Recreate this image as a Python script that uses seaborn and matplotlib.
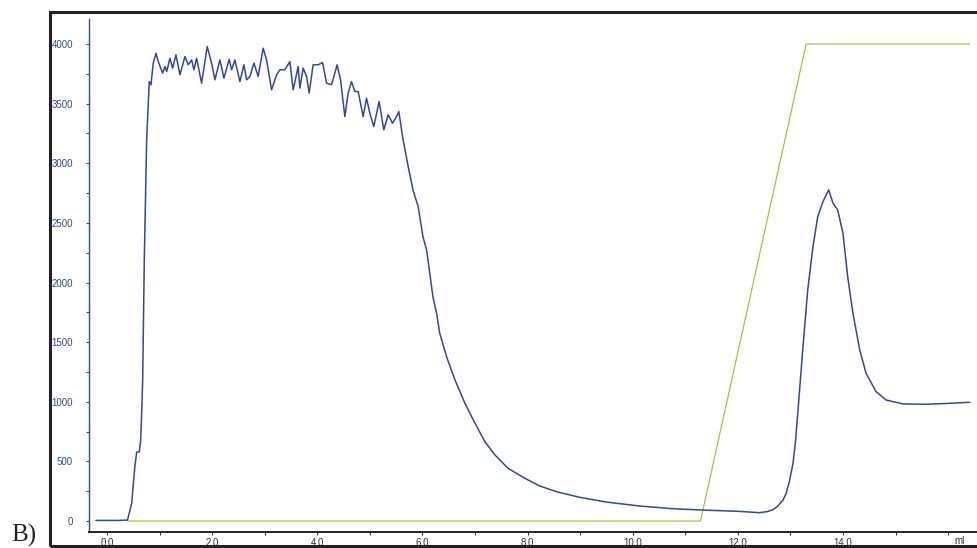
import numpy as np
import pandas as pd
import matplotlib
matplotlib.use("Agg")
import matplotlib.pyplot as plt
from matplotlib.patches import Rectangle
from matplotlib.ticker import MultipleLocator
import seaborn as sns

### Data (ml, mAU)
# sample loading: baseline + breakthrough
load_ml = [-0.21, 0.0, 0.2, 0.39, 0.47, 0.53, 0.565, 0.614, 0.641, 0.66, 0.679, 0.71, 0.755]
load_mau = [5, 5, 5, 8, 148, 455, 578, 580, 680, 906, 1183, 2200, 3196]

# saturated plateau
plat_ml = [0.804, 0.837, 0.880, 0.932, 0.975, 1.059, 1.103, 1.135, 1.198, 1.249, 1.312, 1.388,
           1.483, 1.546, 1.610, 1.654, 1.705, 1.800, 1.907, 1.990, 2.053, 2.148, 2.224, 2.325,
           2.371, 2.433, 2.529, 2.605, 2.656, 2.719, 2.795, 2.876, 2.971, 3.036, 3.131, 3.226,
           3.289, 3.384, 3.479, 3.542, 3.637, 3.669, 3.732, 3.797, 3.846, 3.922, 4.017, 4.101,
           4.177, 4.272, 4.378, 4.443, 4.525, 4.587, 4.652, 4.715, 4.778, 4.873, 4.937, 5.000,
           5.076, 5.177, 5.266, 5.348, 5.432, 5.508, 5.551, 5.633]
plat_mau = [3685, 3658, 3840, 3923, 3853, 3756, 3811, 3770, 3881, 3798, 3909, 3742,
            3895, 3826, 3867, 3784, 3881, 3672, 3979, 3840, 3700, 3867, 3714, 3872,
            3784, 3867, 3685, 3826, 3700, 3728, 3840, 3728, 3965, 3867, 3616, 3742,
            3784, 3784, 3853, 3616, 3811, 3630, 3798, 3728, 3588, 3826, 3826, 3845,
            3672, 3658, 3826, 3700, 3392, 3588, 3685, 3602, 3602, 3392, 3546, 3420,
            3308, 3518, 3280, 3406, 3336, 3392, 3434, 3196]

# wash
wash_ml = [5.73, 5.82, 5.92, 6.01, 6.08, 6.14, 6.20, 6.27, 6.33, 6.46, 6.62, 6.81, 7.00,
           7.19, 7.38, 7.63, 7.95, 8.23, 8.55, 8.99, 9.50, 10.13, 10.77, 11.34, 12.03, 12.41]
wash_mau = [2972, 2777, 2637, 2385, 2273, 2078, 1882, 1742, 1575, 1378, 1183, 987, 820,
            665, 554, 442, 358, 294, 246, 199, 159, 126, 103, 92, 81, 70]

# elution peak
elu_ml = [12.55, 12.67, 12.76, 12.86, 12.92, 12.98, 13.05, 13.10, 13.14, 13.24, 13.33, 13.43,
          13.52, 13.62, 13.73, 13.81, 13.90, 14.00, 14.09, 14.19, 14.32, 14.44, 14.63, 14.82,
          15.14, 15.58, 16.03, 16.41]
elu_mau = [78, 95, 125, 176, 232, 330, 484, 680, 903, 1462, 1938, 2301,
           2553, 2679, 2777, 2665, 2609, 2414, 2050, 1742, 1434, 1239, 1085, 1015,
           982, 979, 987, 996]

# gradiente (linha verde)
grad_ml = [0.39, 11.29, 13.30, 16.41]
grad_val = [0, 0, 4000, 4000]

uv = pd.DataFrame({"ml": load_ml + plat_ml + wash_ml + elu_ml,
                   "mAU": load_mau + plat_mau + wash_mau + elu_mau})
grad = pd.DataFrame({"ml": grad_ml, "mAU": grad_val})

azul = "#3347a0"
verde = "#99cc33"

### Figura
sns.set_style("white")
plt.rcParams["font.family"] = ["Liberation Sans", "DejaVu Sans"]

fig = plt.figure(figsize=(9.77, 5.48), dpi=100)
ax = fig.add_axes([89 / 977, 16 / 548, 888 / 977, 513 / 548])

sns.lineplot(data=grad, x="ml", y="mAU", ax=ax, color=verde, lw=0.9,
             sort=False, estimator=None)
sns.lineplot(data=uv, x="ml", y="mAU", ax=ax, color=azul, lw=1.1,
             sort=False, estimator=None)

ax.set_xlim(-0.342, 16.55)
ax.set_ylim(-92, 4210)
ax.set_xlabel("")
ax.set_ylabel("")

ax.xaxis.set_minor_locator(MultipleLocator(1))
ax.yaxis.set_minor_locator(MultipleLocator(250))
ax.set_xticks(np.arange(0, 16, 2))
ax.set_xticklabels([f"{v:.1f}" for v in np.arange(0, 16, 2)])
ax.set_yticks(np.arange(0, 4001, 500))
ax.set_yticklabels([str(v) for v in range(0, 4001, 500)])

ax.tick_params(axis="y", which="both", direction="out", colors=azul, labelsize=7,
               length=2.5, width=0.8, pad=9, left=True)
ax.tick_params(axis="x", which="both", direction="out", color="#333333", labelcolor="#333333",
               labelsize=7, length=2.5, width=0.8, pad=1.5, bottom=True)

for s in ["top", "right"]:
    ax.spines[s].set_visible(False)
ax.spines["left"].set_color(azul)
ax.spines["left"].set_linewidth(1.0)
ax.spines["bottom"].set_color("#222222")
ax.spines["bottom"].set_linewidth(1.4)

ax.text(-0.16, 1.0, "mAU", transform=ax.get_yaxis_transform(), ha="right", va="center",
        fontsize=7, color=azul)
fig.text(960 / 977, 1 - 541 / 548, "ml", ha="center", va="center", fontsize=7, color="#333333")

# moldura externa e rótulo do painel
fig.patches.append(Rectangle((50 / 977, 2 / 548), 940 / 977, 534 / 548, transform=fig.transFigure,
                             fill=False, edgecolor="#222222", lw=2.2, clip_on=False))
fig.text(11 / 977, 1 / 548, "B)", ha="left", va="bottom", fontsize=18,
         family=["Liberation Serif", "DejaVu Serif"], color="#222222")

fig.savefig("out.png", dpi=100)
